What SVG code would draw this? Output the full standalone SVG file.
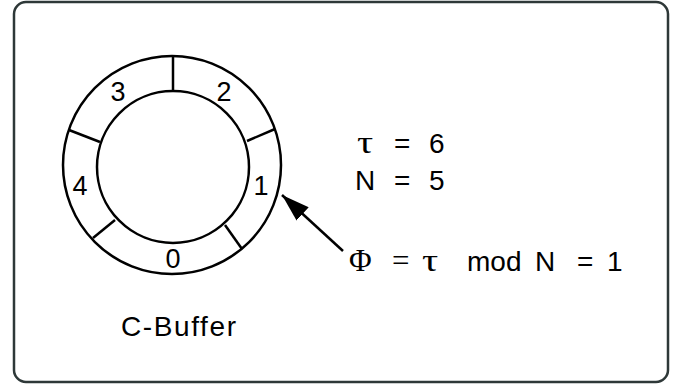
<svg xmlns="http://www.w3.org/2000/svg" width="679" height="385" viewBox="0 0 679 385">
<style>
.ring{fill:none;stroke:#000;stroke-width:2.5}
.div{stroke:#000;stroke-width:2.5}
.lbl{font-family:"Liberation Sans",Arial,sans-serif;font-size:27px;fill:#000}
.big{font-size:28px}
.ser{font-family:"Liberation Serif","Times New Roman",serif;font-size:31px;fill:#000}
.mid{text-anchor:middle}
</style>
<defs>
<marker id="ah" markerUnits="userSpaceOnUse" markerWidth="30" markerHeight="20" refX="28" refY="9" orient="auto">
<path d="M0,0 L28,9 L0,18 Z" fill="#000"/>
</marker>
</defs>
<rect x="14" y="2" width="654" height="380" rx="12" fill="#fff" stroke="#2e3838" stroke-width="2.5"/>
<g id="cbuffer">
<circle class="ring" cx="172" cy="165" r="109"/>
<circle class="ring" cx="173" cy="167" r="76"/>
<line class="div" x1="173" y1="56" x2="173" y2="91"/>
<line class="div" x1="275" y1="129" x2="247" y2="141"/>
<line class="div" x1="242" y1="249" x2="225" y2="225"/>
<line class="div" x1="93" y1="238" x2="115" y2="220"/>
<line class="div" x1="69" y1="130" x2="100" y2="142"/>
<text class="lbl mid" x="118" y="101">3</text>
<text class="lbl mid" x="224" y="101">2</text>
<text class="lbl mid" x="80" y="195">4</text>
<text class="lbl mid" x="261" y="195">1</text>
<text class="lbl mid" x="173" y="268">0</text>
</g>
<g id="caption">
<text class="lbl big" x="121" y="336" textLength="115" lengthAdjust="spacing">C-Buffer</text>
</g>
<g id="params">
<text class="ser" transform="translate(357,153) scale(1.3,1)" x="0" y="0">τ</text>
<text class="lbl big" x="394" y="153">=</text>
<text class="lbl big" x="429" y="153">6</text>
<text class="lbl big" x="355" y="190">N</text>
<text class="lbl big" x="394" y="190">=</text>
<text class="lbl big" x="429" y="190">5</text>
</g>
<g id="formula">
<text class="ser" x="349" y="271">Φ</text>
<text class="ser" x="392" y="271">=</text>
<text class="ser" transform="translate(422,271) scale(1.3,1)" x="0" y="0">τ</text>
<text class="lbl big" x="467" y="271">mod</text>
<text class="lbl big" x="535" y="271">N</text>
<text class="lbl big" x="577" y="271">=</text>
<text class="lbl big" x="607" y="271">1</text>
</g>
<g id="connectors">
<line x1="343" y1="251" x2="282" y2="195" stroke="#000" stroke-width="2.5" marker-end="url(#ah)"/>
</g>
</svg>
